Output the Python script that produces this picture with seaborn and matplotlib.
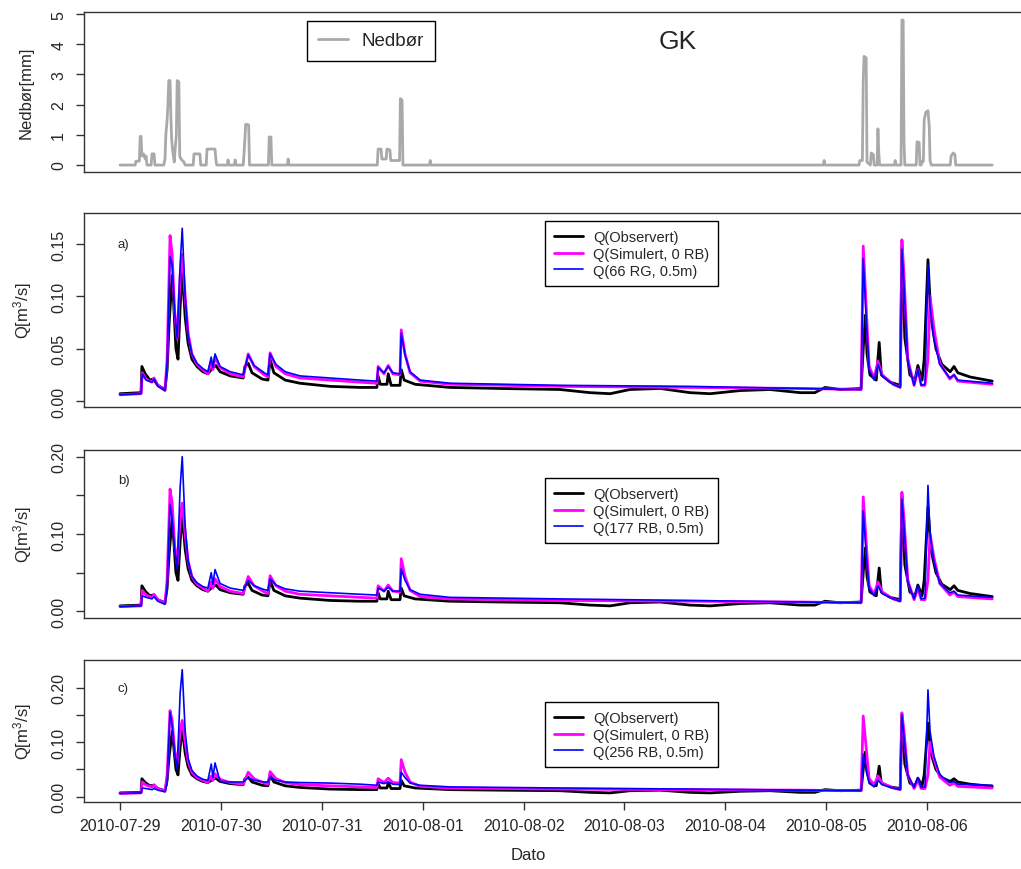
import numpy as np
import pandas as pd
import seaborn as sns
import matplotlib
matplotlib.use('Agg')
import matplotlib.pyplot as plt
import matplotlib.dates as mdates


# hours after 2010-07-29 00:00 and precipitation [mm]
nedbor_h = [0, 3.6, 3.8, 4.0, 4.6, 4.8, 5.0, 5.2, 5.6, 6.0, 6.2, 6.4,
            7.4, 7.6, 8.1, 8.3,
            10.4, 10.7, 10.9, 11.2, 11.4, 11.6, 11.9, 12.1, 12.3, 12.6, 12.9, 13.1, 13.4, 13.6, 14.0, 14.2, 14.5, 15.2, 15.5,
            17.4, 17.6, 19.0, 19.2,
            20.5, 20.7, 22.6, 22.8, 23.0,
            25.5, 25.7, 25.9, 27.2, 27.4, 27.6,
            29.3, 29.5, 29.9, 30.6, 30.8,
            35.3, 35.5, 35.9, 36.1, 39.8, 40.0, 40.2,
            61.2, 61.4, 62.1, 62.3, 63.3, 63.5, 64.2, 64.4, 66.5, 66.7, 67.1, 67.3,
            73.6, 73.8, 74.0,
            167.3, 167.5, 167.7,
            175.8, 176.0, 176.6, 176.8, 177.0, 177.5, 177.7, 178.5, 178.7, 179.2, 179.4,
            180.1, 180.3, 180.5, 180.7,
            184.2, 184.4, 184.6,
            185.8, 186.0, 186.3, 186.5, 186.7,
            189.4, 189.6, 190.1, 190.3,
            190.6, 190.8, 191.1, 191.3, 191.7, 192.2, 192.5, 192.7, 193.0,
            197.5, 197.7, 198.2, 198.6, 198.8,
            207.5]
nedbor_mm = [0, 0, 0.13, 0.13, 0.13, 0.95, 0.95, 0.3, 0.37, 0.2, 0.3, 0,
             0, 0.37, 0.37, 0,
             0, 0.2, 1.0, 1.5, 2.0, 2.8, 2.8, 1.6, 0.8, 0.4, 0.1, 0.5, 1.0, 2.8, 2.75, 0.3, 0.2, 0.1, 0,
             0, 0.37, 0.37, 0,
             0, 0.53, 0.53, 0.2, 0,
             0, 0.17, 0, 0, 0.17, 0,
             0, 0.37, 1.35, 1.33, 0,
             0, 0.93, 0.93, 0, 0, 0.2, 0,
             0, 0.53, 0.53, 0.2, 0.2, 0.53, 0.5, 0.15, 0.15, 2.2, 2.15, 0,
             0, 0.15, 0,
             0, 0.15, 0,
             0, 0.15, 0.15, 2.8, 3.6, 3.55, 0.1, 0, 0.4, 0.35, 0,
             0, 1.2, 0.4, 0,
             0, 0.15, 0,
             0, 4.8, 4.8, 0.75, 0,
             0, 0.77, 0.75, 0,
             0, 0.12, 0.12, 1.5, 1.75, 1.8, 1.3, 0.15, 0,
             0, 0.3, 0.4, 0.35, 0,
             0]

# observed discharge [m3/s]
obs_h = [0, 5.0, 5.2, 6.0, 7.1, 7.9, 9.0, 10.7, 11.2, 11.7,
         12.4, 12.8, 13.3, 13.8, 14.3, 14.8, 15.5, 16.2, 17.1, 18.3,
         19.7, 20.9, 21.9, 22.8, 23.8, 26.2, 29.3, 29.7, 30.5, 31.4,
         33.8, 35.2, 35.7, 36.6, 39.3, 42.8, 50.0, 57.1, 61.1, 61.4,
         61.9, 63.5, 63.8, 64.5, 66.6, 66.9, 67.6, 70.2, 78.5, 90.4,
         104.7, 111.8, 116.6, 121.3, 128.5, 135.6, 140.4, 147.5, 154.6, 161.8,
         165.3, 167.7, 171.3, 176.3, 176.8, 177.3, 177.7, 178.4, 179.9, 180.6,
         181.1, 183.2, 185.6, 186.0, 186.7, 187.9, 189.1, 189.8, 190.8, 191.3,
         192.2, 192.9, 194.1, 195.5, 197.5, 198.4, 199.3, 202.2, 207.5]
obs_q = [0.007, 0.008, 0.033, 0.026, 0.02, 0.021, 0.015, 0.011, 0.03, 0.075,
         0.12, 0.09, 0.05, 0.04, 0.09, 0.125, 0.08, 0.055, 0.04, 0.033,
         0.028, 0.026, 0.031, 0.034, 0.028, 0.024, 0.022, 0.033, 0.036, 0.027,
         0.021, 0.02, 0.04, 0.027, 0.02, 0.017, 0.014, 0.013, 0.013, 0.024,
         0.016, 0.016, 0.026, 0.015, 0.015, 0.03, 0.02, 0.016, 0.013, 0.012,
         0.011, 0.008, 0.007, 0.011, 0.012, 0.008, 0.007, 0.010, 0.011, 0.008,
         0.008, 0.013, 0.011, 0.012, 0.05, 0.082, 0.045, 0.025, 0.02, 0.056,
         0.025, 0.018, 0.015, 0.148, 0.06, 0.025, 0.02, 0.034, 0.02, 0.04,
         0.135, 0.08, 0.05, 0.035, 0.028, 0.033, 0.027, 0.023, 0.019]

# simulated series share the same time points
sim_h = [0, 5.0, 5.3, 6.2, 7.6, 8.1, 9.0, 10.7, 11.2, 11.9,
         12.4, 13.0, 13.6, 14.3, 14.8, 15.5, 16.2, 17.1, 18.3, 19.7,
         20.9, 21.7, 22.1, 22.6, 23.8, 26.2, 29.3, 30.5, 31.9, 34.3,
         35.2, 35.7, 37.1, 39.3, 42.8, 50.0, 57.1, 61.1, 61.4, 62.8,
         63.8, 64.9, 66.6, 66.9, 67.8, 69.0, 71.4, 78.5, 104.7, 135.6,
         161.8, 176.3, 176.8, 177.5, 178.2, 179.4, 180.3, 181.3, 183.9, 185.6,
         186.0, 186.5, 187.4, 188.9, 189.8, 190.6, 191.5, 192.2, 192.7, 193.6,
         195.0, 197.4, 198.4, 199.3, 207.5]
sim0_q = [0.006, 0.007, 0.027, 0.021, 0.018, 0.022, 0.015, 0.010, 0.04, 0.158,
          0.14, 0.085, 0.06, 0.12, 0.14, 0.1, 0.065, 0.045, 0.035, 0.03,
          0.026, 0.038, 0.03, 0.042, 0.032, 0.026, 0.023, 0.045, 0.033, 0.025,
          0.023, 0.046, 0.033, 0.026, 0.022, 0.02, 0.018, 0.017, 0.033, 0.026,
          0.034, 0.026, 0.025, 0.068, 0.045, 0.027, 0.019, 0.016, 0.014, 0.013,
          0.012, 0.011, 0.148, 0.09, 0.033, 0.022, 0.038, 0.025, 0.016, 0.013,
          0.154, 0.12, 0.04, 0.015, 0.03, 0.015, 0.015, 0.04, 0.1, 0.07,
          0.036, 0.021, 0.025, 0.019, 0.016]
rg66_q = [0.006, 0.007, 0.026, 0.02, 0.018, 0.021, 0.014, 0.010, 0.035, 0.138,
          0.13, 0.085, 0.06, 0.13, 0.165, 0.1, 0.062, 0.045, 0.036, 0.031,
          0.028, 0.042, 0.032, 0.045, 0.033, 0.028, 0.025, 0.044, 0.034, 0.027,
          0.025, 0.045, 0.035, 0.028, 0.024, 0.022, 0.02, 0.019, 0.032, 0.027,
          0.033, 0.027, 0.026, 0.065, 0.044, 0.028, 0.02, 0.017, 0.015, 0.014,
          0.012, 0.011, 0.136, 0.08, 0.03, 0.02, 0.035, 0.024, 0.016, 0.013,
          0.145, 0.11, 0.038, 0.015, 0.03, 0.015, 0.016, 0.13, 0.09, 0.06,
          0.035, 0.022, 0.025, 0.02, 0.017]
rb177_q = [0.006, 0.007, 0.02, 0.018, 0.016, 0.019, 0.013, 0.009, 0.03, 0.138,
           0.12, 0.08, 0.055, 0.16, 0.20, 0.11, 0.065, 0.045, 0.037, 0.032,
           0.03, 0.05, 0.035, 0.054, 0.036, 0.03, 0.027, 0.04, 0.033, 0.028,
           0.027, 0.042, 0.034, 0.029, 0.026, 0.024, 0.022, 0.021, 0.03, 0.026,
           0.031, 0.026, 0.026, 0.055, 0.04, 0.028, 0.022, 0.018, 0.016, 0.014,
           0.012, 0.011, 0.13, 0.075, 0.03, 0.02, 0.033, 0.023, 0.016, 0.013,
           0.145, 0.11, 0.038, 0.016, 0.033, 0.016, 0.017, 0.163, 0.1, 0.065,
           0.036, 0.024, 0.026, 0.021, 0.018]
rb256_q = [0.006, 0.007, 0.016, 0.015, 0.013, 0.015, 0.012, 0.009, 0.025, 0.155,
           0.13, 0.08, 0.05, 0.19, 0.233, 0.12, 0.07, 0.048, 0.038, 0.032,
           0.03, 0.06, 0.035, 0.062, 0.028, 0.027, 0.027, 0.035, 0.03, 0.027,
           0.027, 0.036, 0.03, 0.027, 0.026, 0.025, 0.023, 0.021, 0.027, 0.024,
           0.027, 0.023, 0.022, 0.045, 0.035, 0.025, 0.021, 0.018, 0.016, 0.014,
           0.012, 0.011, 0.078, 0.05, 0.025, 0.018, 0.03, 0.022, 0.016, 0.013,
           0.15, 0.11, 0.04, 0.017, 0.035, 0.017, 0.018, 0.196, 0.12, 0.075,
           0.04, 0.026, 0.028, 0.023, 0.021]

blue_labels = ['Q(66 RG, 0.5m)', 'Q(177 RB, 0.5m)', 'Q(256 RB, 0.5m)']
panel_letters = ['a)', 'b)', 'c)']
day_ticks = pd.date_range('2010-07-29', '2010-08-06', freq='D')

sns.set_style('ticks')
plt.rcParams['font.family'] = ['Liberation Sans', 'DejaVu Sans']
plt.rcParams['mathtext.default'] = 'regular'

start = pd.Timestamp('2010-07-29')


def to_time(hours):
    return start + pd.to_timedelta(np.asarray(hours, dtype=float), unit='h')


W, H = 1021, 870
fig = plt.figure(figsize=(W / 100, H / 100), dpi=100)


def add_panel(top, bottom):
    return fig.add_axes([84 / W, 1 - bottom / H, 943 / W, (bottom - top) / H])


def style(ax, ylim, yticks, ylabels):
    ax.set_xlim(start - pd.Timedelta(days=0.357), start + pd.Timedelta(days=8.99))
    ax.set_ylim(*ylim)
    ax.set_yticks(yticks)
    ax.set_yticklabels(ylabels)
    ax.tick_params(axis='y', labelrotation=90, direction='out', length=5.8,
                   width=1, pad=7, labelsize=11.5, color='#333333')
    for lbl in ax.get_yticklabels():
        lbl.set_va('center')
    for sp in ax.spines.values():
        sp.set_visible(True)
        sp.set_color('#333333')
        sp.set_linewidth(1.0)
    ax.set_xticks([])
    ax.yaxis.set_label_coords(-0.053, 0.5)


def legend(ax, x, y, fs, handlelen):
    leg = ax.legend(loc='upper left', bbox_to_anchor=(x, y), borderaxespad=0,
                    fontsize=fs, handlelength=handlelen, handletextpad=0.7,
                    labelspacing=0.2, borderpad=0.6, fancybox=False,
                    framealpha=1, edgecolor='black', facecolor='white')
    leg.get_frame().set_linewidth(1.0)
    return leg


# precipitation panel
ax0 = add_panel(13, 173)
sns.lineplot(x=to_time(nedbor_h), y=nedbor_mm, ax=ax0, color='#a9a9a9', lw=2.0,
             label='Nedbør', estimator=None, sort=False)
style(ax0, (-0.23, 5.07), [0, 1, 2, 3, 4, 5], ['0', '1', '2', '3', '4', '5'])
ax0.set_ylabel('Nedbør[mm]', fontsize=12)
ax0.set_xlabel('')
legend(ax0, 0.2365, 0.944, 13.5, 1.6)
ax0.text(0.63, 0.819, 'GK', transform=ax0.transAxes, fontsize=19, ha='center', va='center')

# discharge panels
boxes = [(214, 408), (451, 619), (661, 803)]
ylims = [(-0.0057, 0.1796), (-0.0087, 0.2087), (-0.0097, 0.2508)]
ytick_sets = [[0, 0.05, 0.10, 0.15], [0, 0.05, 0.10, 0.15, 0.20], [0, 0.05, 0.10, 0.15, 0.20]]
ylabel_sets = [['0.00', '0.05', '0.10', '0.15'], ['0.00', '', '0.10', '', '0.20'], ['0.00', '', '0.10', '', '0.20']]
blue_series = [rg66_q, rb177_q, rb256_q]
letter_y = [245, 481, 689]
legend_top = [222, 479, 703]

for i in range(3):
    top, bottom = boxes[i]
    ax = add_panel(top, bottom)
    sns.lineplot(x=to_time(obs_h), y=obs_q, ax=ax, color='black', lw=2.0,
                 label='Q(Observert)', estimator=None, sort=False)
    sns.lineplot(x=to_time(sim_h), y=sim0_q, ax=ax, color='#ff00ff', lw=2.0,
                 label='Q(Simulert, 0 RB)', estimator=None, sort=False)
    sns.lineplot(x=to_time(sim_h), y=blue_series[i], ax=ax, color='#0000ff', lw=1.2,
                 label=blue_labels[i], estimator=None, sort=False)
    style(ax, ylims[i], ytick_sets[i], ylabel_sets[i])
    ax.set_ylabel('Q[m$^{3}$/s]', fontsize=12)
    ax.set_xlabel('')
    h = bottom - top
    ax.text((118 - 84) / 943, 1 - (letter_y[i] - top) / h, panel_letters[i],
            transform=ax.transAxes, fontsize=9.5, ha='left', va='center')
    legend(ax, (545 - 84) / 943, 1 - (legend_top[i] - top) / h, 10.5, 2.0)

# date axis on the bottom panel
ax.set_xticks(day_ticks)
ax.xaxis.set_major_formatter(mdates.DateFormatter('%Y-%m-%d'))
ax.tick_params(axis='x', direction='out', length=5.8, width=1, pad=6,
               labelsize=11.5, color='#333333')
ax.set_xlabel('Dato', fontsize=12)
ax.xaxis.set_label_coords((528 - 84) / 943, -0.317)

fig.savefig('out.png', dpi=100)
